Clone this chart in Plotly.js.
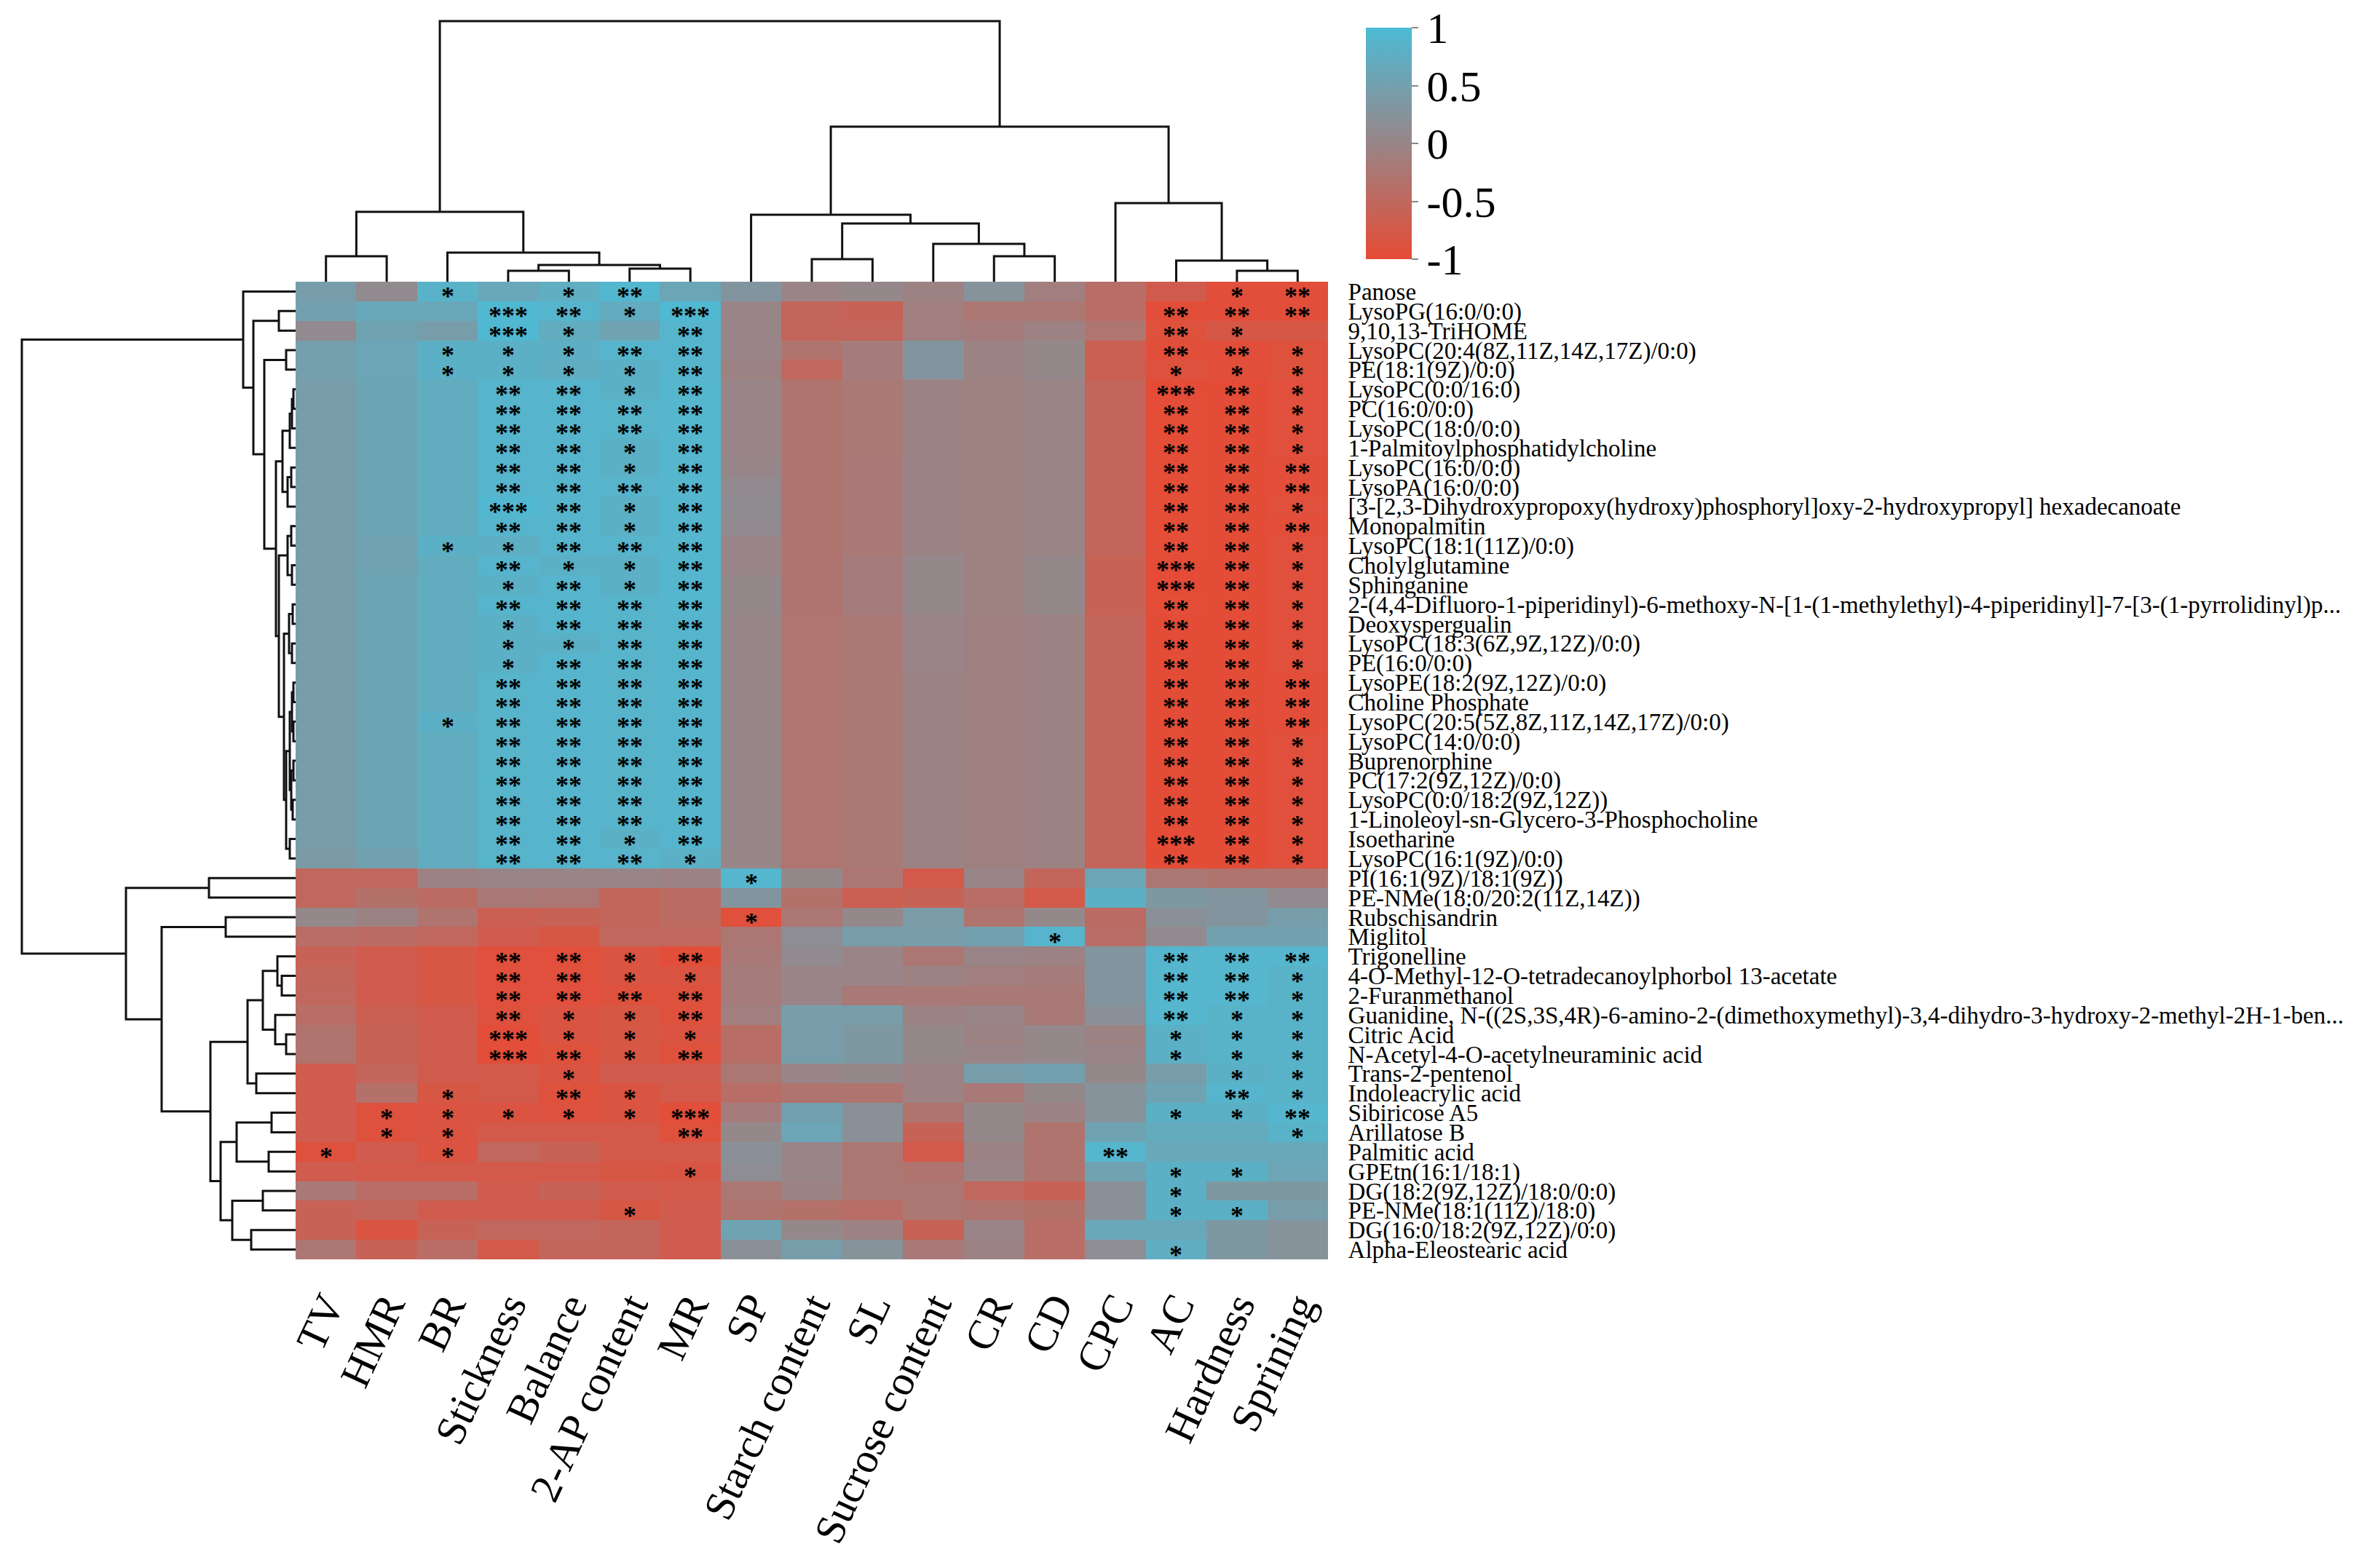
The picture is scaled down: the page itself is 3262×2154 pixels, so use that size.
<!DOCTYPE html>
<html>
<head>
<meta charset="utf-8">
<script src="https://cdn.plot.ly/plotly-3.0.1.min.js"></script>
<style>html,body{margin:0;padding:0;background:#fff;}</style>
</head>
<body>
<div id="chart" style="width:3262px;height:2154px;"></div>
<script>
// ---------------- DATA ----------------
const colLabels = ["TV","HMR","BR","Stickness","Balance","2-AP content","MR","SP","Starch content","SL","Sucrose content","CR","CD","CPC","AC","Hardness","Sprining"];

const rowLabels = [
"Panose","LysoPG(16:0/0:0)","9,10,13-TriHOME","LysoPC(20:4(8Z,11Z,14Z,17Z)/0:0)","PE(18:1(9Z)/0:0)",
"LysoPC(0:0/16:0)","PC(16:0/0:0)","LysoPC(18:0/0:0)","1-Palmitoylphosphatidylcholine","LysoPC(16:0/0:0)",
"LysoPA(16:0/0:0)","[3-[2,3-Dihydroxypropoxy(hydroxy)phosphoryl]oxy-2-hydroxypropyl] hexadecanoate","Monopalmitin","LysoPC(18:1(11Z)/0:0)","Cholylglutamine",
"Sphinganine","2-(4,4-Difluoro-1-piperidinyl)-6-methoxy-N-[1-(1-methylethyl)-4-piperidinyl]-7-[3-(1-pyrrolidinyl)p...","Deoxyspergualin","LysoPC(18:3(6Z,9Z,12Z)/0:0)","PE(16:0/0:0)",
"LysoPE(18:2(9Z,12Z)/0:0)","Choline Phosphate","LysoPC(20:5(5Z,8Z,11Z,14Z,17Z)/0:0)","LysoPC(14:0/0:0)","Buprenorphine",
"PC(17:2(9Z,12Z)/0:0)","LysoPC(0:0/18:2(9Z,12Z))","1-Linoleoyl-sn-Glycero-3-Phosphocholine","Isoetharine","LysoPC(16:1(9Z)/0:0)",
"PI(16:1(9Z)/18:1(9Z))","PE-NMe(18:0/20:2(11Z,14Z))","Rubschisandrin","Miglitol","Trigonelline",
"4-O-Methyl-12-O-tetradecanoylphorbol 13-acetate","2-Furanmethanol","Guanidine, N-((2S,3S,4R)-6-amino-2-(dimethoxymethyl)-3,4-dihydro-3-hydroxy-2-methyl-2H-1-ben...","Citric Acid","N-Acetyl-4-O-acetylneuraminic acid",
"Trans-2-pentenol","Indoleacrylic acid","Sibiricose A5","Arillatose B","Palmitic acid",
"GPEtn(16:1/18:1)","DG(18:2(9Z,12Z)/18:0/0:0)","PE-NMe(18:1(11Z)/18:0)","DG(16:0/18:2(9Z,12Z)/0:0)","Alpha-Eleostearic acid"
];

// correlation values, one row per metabolite (columns in colLabels order)
const corr = [
[ 0.45, 0.10, 0.85, 0.65, 0.75, 0.92, 0.60, 0.30, 0.00, 0.05,-0.05, 0.25,-0.10,-0.40,-0.72,-0.93,-0.95],
[ 0.50, 0.65, 0.65, 0.95, 0.88, 0.72, 0.95, 0.00,-0.55,-0.60,-0.10,-0.25,-0.25,-0.40,-0.95,-0.95,-0.95],
[ 0.10, 0.55, 0.45, 0.95, 0.72, 0.55, 0.88, 0.00,-0.55,-0.55,-0.10,-0.15,-0.05,-0.28,-0.90,-0.78,-0.78],
[ 0.48, 0.60, 0.80, 0.80, 0.78, 0.88, 0.88, 0.00,-0.30,-0.15, 0.30,-0.05, 0.05,-0.65,-0.93,-0.95,-0.90],
[ 0.48, 0.60, 0.80, 0.80, 0.75, 0.80, 0.88,-0.05,-0.50,-0.15, 0.30,-0.05, 0.05,-0.65,-0.90,-0.93,-0.90],
[ 0.45, 0.58, 0.72, 0.88, 0.88, 0.80, 0.90, 0.00,-0.30,-0.22,-0.03,-0.07,-0.02,-0.55,-0.98,-0.96,-0.92],
[ 0.45, 0.58, 0.72, 0.88, 0.88, 0.87, 0.90, 0.00,-0.30,-0.22,-0.03,-0.07,-0.02,-0.55,-0.97,-0.96,-0.92],
[ 0.45, 0.58, 0.72, 0.88, 0.88, 0.87, 0.90, 0.00,-0.30,-0.22,-0.03,-0.07,-0.02,-0.55,-0.97,-0.96,-0.92],
[ 0.45, 0.58, 0.72, 0.88, 0.88, 0.80, 0.90, 0.00,-0.30,-0.22,-0.03,-0.07,-0.02,-0.55,-0.97,-0.96,-0.92],
[ 0.45, 0.58, 0.72, 0.88, 0.88, 0.80, 0.90, 0.02,-0.30,-0.20,-0.03,-0.07,-0.02,-0.55,-0.97,-0.96,-0.95],
[ 0.45, 0.58, 0.72, 0.88, 0.88, 0.87, 0.90, 0.10,-0.30,-0.20,-0.03,-0.07,-0.02,-0.55,-0.97,-0.96,-0.95],
[ 0.45, 0.58, 0.72, 0.93, 0.88, 0.80, 0.90, 0.12,-0.30,-0.20,-0.03,-0.07,-0.02,-0.55,-0.97,-0.96,-0.92],
[ 0.45, 0.58, 0.72, 0.88, 0.88, 0.80, 0.90, 0.10,-0.30,-0.20,-0.03,-0.07,-0.02,-0.55,-0.97,-0.96,-0.95],
[ 0.45, 0.55, 0.80, 0.78, 0.88, 0.87, 0.90, 0.00,-0.30,-0.20,-0.03,-0.07,-0.02,-0.55,-0.97,-0.96,-0.92],
[ 0.45, 0.55, 0.72, 0.88, 0.80, 0.80, 0.90, 0.00,-0.30,-0.15, 0.05,-0.07, 0.05,-0.60,-0.98,-0.96,-0.92],
[ 0.45, 0.58, 0.72, 0.80, 0.88, 0.80, 0.90, 0.05,-0.30,-0.15, 0.05,-0.07, 0.05,-0.60,-0.98,-0.96,-0.92],
[ 0.45, 0.58, 0.72, 0.88, 0.88, 0.87, 0.90, 0.05,-0.30,-0.15, 0.05,-0.07, 0.05,-0.60,-0.97,-0.96,-0.92],
[ 0.45, 0.58, 0.72, 0.80, 0.88, 0.87, 0.88, 0.03,-0.28,-0.22, 0.00,-0.08,-0.05,-0.55,-0.96,-0.96,-0.92],
[ 0.45, 0.58, 0.72, 0.80, 0.80, 0.87, 0.88, 0.03,-0.28,-0.22, 0.00,-0.08,-0.05,-0.55,-0.96,-0.96,-0.92],
[ 0.45, 0.58, 0.72, 0.80, 0.88, 0.87, 0.88, 0.03,-0.28,-0.22, 0.00,-0.08,-0.05,-0.55,-0.96,-0.96,-0.92],
[ 0.45, 0.58, 0.72, 0.87, 0.88, 0.87, 0.88, 0.03,-0.28,-0.22,-0.03,-0.08,-0.05,-0.55,-0.96,-0.96,-0.95],
[ 0.45, 0.58, 0.72, 0.87, 0.88, 0.87, 0.88, 0.03,-0.28,-0.22,-0.03,-0.08,-0.05,-0.55,-0.96,-0.96,-0.95],
[ 0.45, 0.58, 0.80, 0.87, 0.88, 0.87, 0.88, 0.03,-0.28,-0.22,-0.03,-0.08,-0.05,-0.55,-0.96,-0.96,-0.95],
[ 0.45, 0.58, 0.72, 0.87, 0.88, 0.87, 0.88, 0.03,-0.28,-0.22,-0.03,-0.08,-0.05,-0.55,-0.96,-0.96,-0.92],
[ 0.45, 0.58, 0.72, 0.87, 0.88, 0.87, 0.88, 0.03,-0.28,-0.22,-0.03,-0.08,-0.05,-0.55,-0.96,-0.96,-0.92],
[ 0.45, 0.58, 0.72, 0.87, 0.88, 0.87, 0.88, 0.03,-0.28,-0.22,-0.03,-0.08,-0.05,-0.55,-0.96,-0.96,-0.92],
[ 0.45, 0.58, 0.72, 0.87, 0.88, 0.87, 0.88, 0.03,-0.28,-0.22,-0.03,-0.08,-0.05,-0.55,-0.96,-0.96,-0.92],
[ 0.45, 0.58, 0.72, 0.87, 0.88, 0.87, 0.88, 0.03,-0.28,-0.22,-0.03,-0.08,-0.05,-0.55,-0.96,-0.96,-0.92],
[ 0.45, 0.58, 0.72, 0.87, 0.88, 0.80, 0.88, 0.03,-0.28,-0.22,-0.03,-0.08,-0.05,-0.55,-0.98,-0.96,-0.92],
[ 0.38, 0.50, 0.72, 0.87, 0.88, 0.87, 0.80, 0.03,-0.28,-0.22,-0.03,-0.08,-0.05,-0.55,-0.96,-0.96,-0.92],
[-0.50,-0.50,-0.05, 0.00, 0.00, 0.00,-0.05, 0.90, 0.05,-0.25,-0.75, 0.00,-0.55, 0.60,-0.25,-0.30,-0.30],
[-0.50,-0.35,-0.45,-0.20,-0.25,-0.55,-0.45, 0.30,-0.35,-0.65,-0.60,-0.40,-0.75, 0.80, 0.35, 0.30, 0.10],
[ 0.05,-0.05,-0.30,-0.65,-0.60,-0.55,-0.45,-0.92,-0.25, 0.05, 0.40,-0.30, 0.05,-0.45, 0.20, 0.30, 0.45],
[-0.40,-0.45,-0.50,-0.70,-0.80,-0.50,-0.50,-0.25, 0.15, 0.45, 0.45, 0.50, 0.88,-0.40, 0.10, 0.50, 0.50],
[-0.60,-0.70,-0.80,-0.92,-0.92,-0.85,-0.95,-0.20, 0.10, 0.00,-0.25, 0.00,-0.05, 0.30, 0.90, 0.90, 0.90],
[-0.55,-0.70,-0.80,-0.92,-0.92,-0.85,-0.85,-0.15, 0.00, 0.00,-0.05,-0.10,-0.15, 0.30, 0.90, 0.90, 0.85],
[-0.50,-0.70,-0.80,-0.92,-0.92,-0.90,-0.90,-0.15, 0.00,-0.20,-0.20,-0.20,-0.20, 0.30, 0.90, 0.90, 0.85],
[-0.40,-0.65,-0.72,-0.90,-0.85,-0.80,-0.90,-0.10, 0.45, 0.45,-0.05, 0.00,-0.20, 0.20, 0.90, 0.85, 0.85],
[-0.30,-0.60,-0.70,-0.95,-0.85,-0.80,-0.85,-0.40, 0.45, 0.35, 0.05,-0.05, 0.05,-0.05, 0.80, 0.85, 0.85],
[-0.30,-0.60,-0.70,-0.95,-0.90,-0.80,-0.90,-0.40, 0.45, 0.35, 0.05, 0.00, 0.05, 0.00, 0.80, 0.85, 0.85],
[-0.70,-0.55,-0.70,-0.75,-0.85,-0.70,-0.70,-0.25, 0.00, 0.05,-0.05, 0.45, 0.50, 0.05, 0.45, 0.80, 0.85],
[-0.70,-0.35,-0.80,-0.75,-0.90,-0.85,-0.75,-0.40,-0.30,-0.30,-0.05,-0.20, 0.05, 0.25, 0.55, 0.88, 0.85],
[-0.70,-0.90,-0.85,-0.85,-0.88,-0.85,-0.95,-0.15, 0.50, 0.20,-0.30, 0.05,-0.05, 0.25, 0.80, 0.80, 0.90],
[-0.70,-0.90,-0.85,-0.75,-0.75,-0.75,-0.90, 0.05, 0.60, 0.20,-0.60, 0.05,-0.30, 0.55, 0.70, 0.70, 0.85],
[-0.90,-0.70,-0.85,-0.50,-0.60,-0.75,-0.75, 0.20, 0.00,-0.25,-0.75,-0.05,-0.30, 0.90, 0.65, 0.65, 0.65],
[-0.70,-0.75,-0.75,-0.75,-0.75,-0.80,-0.82, 0.15, 0.00,-0.25,-0.30, 0.00,-0.30, 0.55, 0.80, 0.80, 0.60],
[-0.20,-0.40,-0.40,-0.70,-0.60,-0.70,-0.75,-0.25,-0.05,-0.25,-0.25,-0.50,-0.60, 0.20, 0.80, 0.35, 0.35],
[-0.60,-0.55,-0.70,-0.70,-0.70,-0.80,-0.70,-0.30,-0.35,-0.40,-0.25,-0.30,-0.35, 0.20, 0.80, 0.80, 0.45],
[-0.60,-0.85,-0.60,-0.50,-0.50,-0.55,-0.70, 0.55, 0.05,-0.05,-0.60, 0.00,-0.40, 0.65, 0.65, 0.35, 0.25],
[-0.25,-0.60,-0.40,-0.75,-0.55,-0.55,-0.70, 0.20, 0.45, 0.25,-0.20,-0.05,-0.40, 0.15, 0.75, 0.35, 0.25]
];

// significance stars (number of asterisks per cell)
const stars = [
[0,0,1,0,1,2,0,0,0,0,0,0,0,0,0,1,2],
[0,0,0,3,2,1,3,0,0,0,0,0,0,0,2,2,2],
[0,0,0,3,1,0,2,0,0,0,0,0,0,0,2,1,0],
[0,0,1,1,1,2,2,0,0,0,0,0,0,0,2,2,1],
[0,0,1,1,1,1,2,0,0,0,0,0,0,0,1,1,1],
[0,0,0,2,2,1,2,0,0,0,0,0,0,0,3,2,1],
[0,0,0,2,2,2,2,0,0,0,0,0,0,0,2,2,1],
[0,0,0,2,2,2,2,0,0,0,0,0,0,0,2,2,1],
[0,0,0,2,2,1,2,0,0,0,0,0,0,0,2,2,1],
[0,0,0,2,2,1,2,0,0,0,0,0,0,0,2,2,2],
[0,0,0,2,2,2,2,0,0,0,0,0,0,0,2,2,2],
[0,0,0,3,2,1,2,0,0,0,0,0,0,0,2,2,1],
[0,0,0,2,2,1,2,0,0,0,0,0,0,0,2,2,2],
[0,0,1,1,2,2,2,0,0,0,0,0,0,0,2,2,1],
[0,0,0,2,1,1,2,0,0,0,0,0,0,0,3,2,1],
[0,0,0,1,2,1,2,0,0,0,0,0,0,0,3,2,1],
[0,0,0,2,2,2,2,0,0,0,0,0,0,0,2,2,1],
[0,0,0,1,2,2,2,0,0,0,0,0,0,0,2,2,1],
[0,0,0,1,1,2,2,0,0,0,0,0,0,0,2,2,1],
[0,0,0,1,2,2,2,0,0,0,0,0,0,0,2,2,1],
[0,0,0,2,2,2,2,0,0,0,0,0,0,0,2,2,2],
[0,0,0,2,2,2,2,0,0,0,0,0,0,0,2,2,2],
[0,0,1,2,2,2,2,0,0,0,0,0,0,0,2,2,2],
[0,0,0,2,2,2,2,0,0,0,0,0,0,0,2,2,1],
[0,0,0,2,2,2,2,0,0,0,0,0,0,0,2,2,1],
[0,0,0,2,2,2,2,0,0,0,0,0,0,0,2,2,1],
[0,0,0,2,2,2,2,0,0,0,0,0,0,0,2,2,1],
[0,0,0,2,2,2,2,0,0,0,0,0,0,0,2,2,1],
[0,0,0,2,2,1,2,0,0,0,0,0,0,0,3,2,1],
[0,0,0,2,2,2,1,0,0,0,0,0,0,0,2,2,1],
[0,0,0,0,0,0,0,1,0,0,0,0,0,0,0,0,0],
[0,0,0,0,0,0,0,0,0,0,0,0,0,0,0,0,0],
[0,0,0,0,0,0,0,1,0,0,0,0,0,0,0,0,0],
[0,0,0,0,0,0,0,0,0,0,0,0,1,0,0,0,0],
[0,0,0,2,2,1,2,0,0,0,0,0,0,0,2,2,2],
[0,0,0,2,2,1,1,0,0,0,0,0,0,0,2,2,1],
[0,0,0,2,2,2,2,0,0,0,0,0,0,0,2,2,1],
[0,0,0,2,1,1,2,0,0,0,0,0,0,0,2,1,1],
[0,0,0,3,1,1,1,0,0,0,0,0,0,0,1,1,1],
[0,0,0,3,2,1,2,0,0,0,0,0,0,0,1,1,1],
[0,0,0,0,1,0,0,0,0,0,0,0,0,0,0,1,1],
[0,0,1,0,2,1,0,0,0,0,0,0,0,0,0,2,1],
[0,1,1,1,1,1,3,0,0,0,0,0,0,0,1,1,2],
[0,1,1,0,0,0,2,0,0,0,0,0,0,0,0,0,1],
[1,0,1,0,0,0,0,0,0,0,0,0,0,2,0,0,0],
[0,0,0,0,0,0,1,0,0,0,0,0,0,0,1,1,0],
[0,0,0,0,0,0,0,0,0,0,0,0,0,0,1,0,0],
[0,0,0,0,0,1,0,0,0,0,0,0,0,0,1,1,0],
[0,0,0,0,0,0,0,0,0,0,0,0,0,0,0,0,0],
[0,0,0,0,0,0,0,0,0,0,0,0,0,0,1,0,0]
];

// column clustering: [childA, childB, height]; leaves 0..16, merges numbered from 17
const colLinkage = [
[0,1,35],[3,4,15],[5,6,18],[18,19,23],[2,20,40],[17,21,96],
[8,9,31],[11,12,35],[10,24,52],[23,25,80],[7,26,92],
[15,16,15],[14,28,29],[13,29,108],[27,30,213],[22,31,358]
];

// row clustering: leaves 0..49, merges numbered from 50
const rowLinkage = [
[1,2,23],[3,4,13],[5,6,3],[52,7,5],[53,8,8],[9,10,6],[55,11,11],[54,56,18],
[12,13,6],[14,15,5],[58,59,11],[16,17,4],[18,19,5],[61,62,9],
[20,21,3],[22,23,3],[64,65,5],[24,25,3],[26,27,4],[67,68,6],[66,69,8],[28,29,8],[70,71,13],
[63,72,16],[60,73,23],[57,74,27],[51,75,43],[50,76,58],[0,77,72],
[30,31,119],[32,33,96],[35,36,19],[34,81,25],[38,39,13],[37,83,28],[82,84,45],[40,41,54],[85,86,66],
[42,43,33],[44,45,37],[88,89,81],[46,47,45],[48,49,61],[91,92,87],[90,93,103],[87,94,117],
[80,95,184],[79,96,233],[78,97,376]
];

// ---------------- BUILD ----------------
const W = 3262, H = 2154;
const hmL = 406, hmR = 1824, hmT = 387, hmB = 1730;
const serif = "Liberation Serif, Times New Roman, serif";

function dendroLines(linkage, nLeaves) {
  const pos = [], ht = [];
  for (let i = 0; i < nLeaves; i++) { pos[i] = i; ht[i] = 0; }
  const xs = [], ys = [];
  linkage.forEach((m, k) => {
    const id = nLeaves + k, a = m[0], b = m[1], h = m[2];
    xs.push(pos[a], pos[a], pos[b], pos[b], null);
    ys.push(ht[a], h, h, ht[b], null);
    pos[id] = (pos[a] + pos[b]) / 2; ht[id] = h;
  });
  return {pos: xs, h: ys};
}

const colD = dendroLines(colLinkage, colLabels.length);
const rowD = dendroLines(rowLinkage, rowLabels.length);

const xIdx = colLabels.map((_, i) => i);
const yIdx = rowLabels.map((_, i) => i);

const traces = [
  {
    type: 'heatmap', z: corr, x: xIdx, y: yIdx, xaxis: 'x', yaxis: 'y',
    zmin: -1, zmax: 1,
    colorscale: [[0, '#E64B35'], [0.5, '#998587'], [1, '#4DBBD5']],
    xgap: 0, ygap: 0, hoverinfo: 'z',
    colorbar: {
      x: 1866 / W, xanchor: 'left', xref: 'paper', xpad: 10,
      y: 1 - 38 / H, yanchor: 'top', yref: 'paper', ypad: 0,
      len: 318, lenmode: 'pixels', thickness: 63, thicknessmode: 'pixels',
      outlinewidth: 0, ticks: 'outside', ticklen: 9, tickwidth: 2, tickcolor: '#888',
      tickvals: [-1, -0.5, 0, 0.5, 1], ticktext: ['-1', '-0.5', '0', '0.5', '1'],
      tickfont: {family: serif, size: 60, color: '#000'}
    }
  },
  {
    type: 'scatter', mode: 'lines', x: colD.pos, y: colD.h, xaxis: 'x2', yaxis: 'y2',
    line: {color: '#111', width: 3}, hoverinfo: 'skip', showlegend: false
  },
  {
    type: 'scatter', mode: 'lines', x: rowD.h, y: rowD.pos, xaxis: 'x3', yaxis: 'y3',
    line: {color: '#111', width: 3}, hoverinfo: 'skip', showlegend: false
  }
];

const annotations = [];
stars.forEach((row, r) => row.forEach((n, c) => {
  if (n > 0) annotations.push({
    x: c, y: r, xref: 'x', yref: 'y', text: '*'.repeat(n), showarrow: false,
    font: {family: serif, size: 36, color: '#000', weight: 'bold'}, yshift: -7,
    height: 26
  });
}));

const xDom = [hmL / W, hmR / W];
const yDom = [1 - hmB / H, 1 - hmT / H];

const layout = {
  width: W, height: H, margin: {l: 0, r: 0, t: 0, b: 0},
  paper_bgcolor: '#fff', plot_bgcolor: '#fff', showlegend: false,
  xaxis: {
    domain: xDom, range: [-0.5, colLabels.length - 0.5], anchor: 'y',
    tickmode: 'array', tickvals: xIdx, ticktext: colLabels, tickangle: -65,
    tickfont: {family: serif, size: 58, color: '#000'},
    ticks: 'outside', ticklen: 6, tickcolor: 'rgba(0,0,0,0)',
    showgrid: false, zeroline: false, showline: false
  },
  yaxis: {
    domain: yDom, range: [rowLabels.length - 0.5, -0.5], anchor: 'x', side: 'right',
    tickmode: 'array', tickvals: yIdx, ticktext: rowLabels,
    tickfont: {family: serif, size: 33, color: '#000'},
    ticks: 'outside', ticklen: 20, tickcolor: 'rgba(0,0,0,0)',
    showgrid: false, zeroline: false, showline: false
  },
  xaxis2: {domain: xDom, range: [-0.5, colLabels.length - 0.5], anchor: 'y2', visible: false},
  yaxis2: {domain: [1 - hmT / H, 1], range: [0, hmT], anchor: 'x2', visible: false},
  xaxis3: {domain: [0, hmL / W], range: [hmL, 0], anchor: 'y3', visible: false},
  yaxis3: {domain: yDom, range: [rowLabels.length - 0.5, -0.5], anchor: 'x3', visible: false},
  annotations: annotations
};

Plotly.newPlot('chart', traces, layout, {displayModeBar: false, staticPlot: true});
</script>
</body>
</html>
